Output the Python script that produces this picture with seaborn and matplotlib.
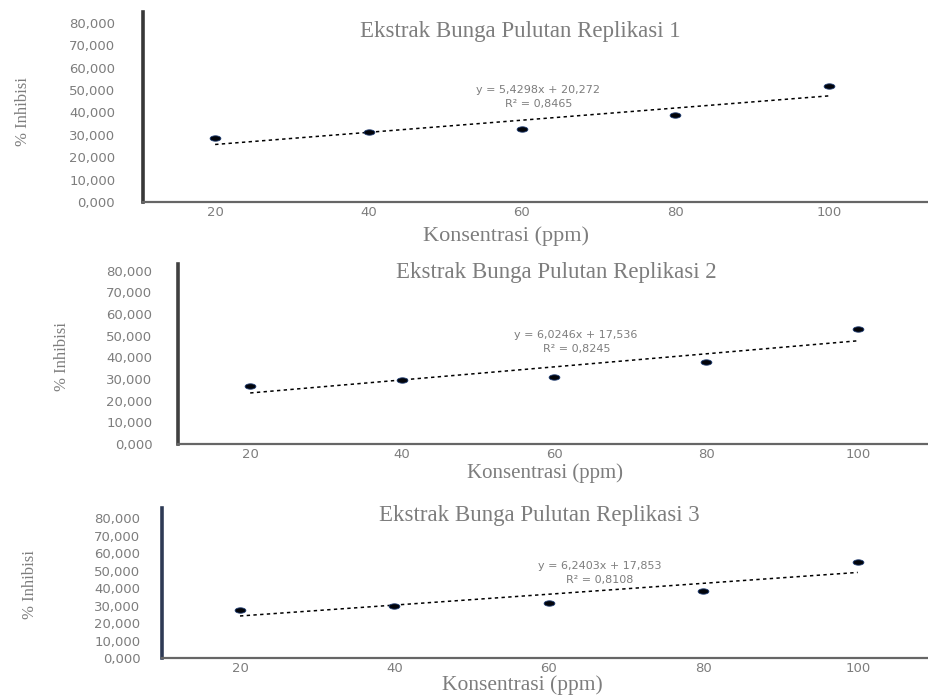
import numpy as np
import pandas as pd
import matplotlib
matplotlib.use("Agg")
import matplotlib.pyplot as plt
import seaborn as sns
from matplotlib.path import Path
from matplotlib.markers import MarkerStyle

# ---------------- data ----------------
konsentrasi = [20, 40, 60, 80, 100]
inhibisi_r1 = [28.5, 31.4, 32.5, 38.9, 51.8]
inhibisi_r2 = [27.0, 29.6, 31.0, 37.9, 53.1]
inhibisi_r3 = [27.5, 30.0, 31.5, 38.4, 54.9]
slopes = [5.4298, 6.0246, 6.2403]
intercepts = [20.272, 17.536, 17.853]
equations = ["y = 5,4298x + 20,272", "y = 6,0246x + 17,536", "y = 6,2403x + 17,853"]
r2_texts = ["R² = 0,8465", "R² = 0,8245", "R² = 0,8108"]
titles = ["Ekstrak Bunga Pulutan Replikasi 1",
          "Ekstrak Bunga Pulutan Replikasi 2",
          "Ekstrak Bunga Pulutan Replikasi 3"]
y_ticks = [0, 10, 20, 30, 40, 50, 60, 70, 80]
y_tick_labels = ["0,000", "10,000", "20,000", "30,000", "40,000",
                 "50,000", "60,000", "70,000", "80,000"]
x_label = "Konsentrasi (ppm)"
y_label = "% Inhibisi"

series = [inhibisi_r1, inhibisi_r2, inhibisi_r3]

# ---------------- style ----------------
sns.set_theme(style="white")
plt.rcParams["font.family"] = ["DejaVu Sans"]

W, H = 929, 697
fig = plt.figure(figsize=(W / 100, H / 100), dpi=100)
fig.patch.set_facecolor("white")

def fx(x):
    return x / W

def fy(y):
    return 1 - y / H

# layout per panel (pixels): axes box, xlim, ylim, y tick pad, text anchors
layouts = [
    dict(box=(143, 12, 927, 202), xlim=(10.6, 112.8), ylim=(0, 84.9), ypad=20,
         title=(520, 31), xlab=(506, 236), xsize=16, ylab=(23, 112),
         eq=(538, 90), r2=(539, 104), lcol="#383838"),
    dict(box=(178, 264, 928, 444), xlim=(10.5, 109.2), ylim=(0, 83.1), ypad=18.5,
         title=(556, 273), xlab=(545, 473), xsize=15, ylab=(62, 357),
         eq=(576, 335), r2=(577, 349), lcol="#404040"),
    dict(box=(162, 508, 928, 658), xlim=(9.9, 109.1), ylim=(0, 86.0), ypad=15.5,
         title=(539, 516), xlab=(522, 685), xsize=15.5, ylab=(30, 585),
         eq=(600, 566), r2=(600, 580), lcol="#2e3a55"),
]

theta = np.linspace(0, 2 * np.pi, 64)
ellipse = Path(np.column_stack([np.cos(theta), 0.5 * np.sin(theta)]), closed=True)
ell_marker = MarkerStyle(ellipse)

text_col = "#7d7d7d"
serif = ["Liberation Serif", "DejaVu Serif"]

for i, lay in enumerate(layouts):
    l, t, r, b = lay["box"]
    ax = fig.add_axes([fx(l), fy(b), (r - l) / W, (b - t) / H])
    ax.set_facecolor("white")

    df = pd.DataFrame({"Konsentrasi": konsentrasi, "Inhibisi": series[i]})
    idx = np.arange(1, len(konsentrasi) + 1)
    trend = pd.DataFrame({"Konsentrasi": konsentrasi,
                          "Trend": slopes[i] * idx + intercepts[i]})

    sns.lineplot(data=trend, x="Konsentrasi", y="Trend", ax=ax, color="black",
                 linewidth=1.1, linestyle=(0, (2.2, 2.2)), zorder=2)
    sns.scatterplot(data=df, x="Konsentrasi", y="Inhibisi", ax=ax,
                    marker=ell_marker, s=60, color="#02040a",
                    edgecolor="#1d3a70", linewidth=0.6, zorder=3)

    ax.set_xlim(*lay["xlim"])
    ax.set_ylim(*lay["ylim"])
    ax.set_xticks(konsentrasi)
    ax.set_xticklabels([str(k) for k in konsentrasi])
    ax.set_yticks(y_ticks)
    ax.set_yticklabels(y_tick_labels)
    ax.tick_params(axis="y", length=0, pad=lay["ypad"], labelsize=9.5, labelcolor=text_col)
    ax.tick_params(axis="x", length=0, pad=3, labelsize=9.5, labelcolor=text_col)
    ax.set_xlabel("")
    ax.set_ylabel("")
    ax.grid(False)

    for s in ["top", "right"]:
        ax.spines[s].set_visible(False)
    ax.spines["left"].set_color(lay["lcol"])
    ax.spines["left"].set_linewidth(2.6)
    ax.spines["bottom"].set_color("#666666")
    ax.spines["bottom"].set_linewidth(1.6)

    fig.text(fx(lay["title"][0]), fy(lay["title"][1]), titles[i], ha="center", va="center",
             fontsize=16.5, color=text_col, family=serif)
    fig.text(fx(lay["xlab"][0]), fy(lay["xlab"][1]), x_label, ha="center", va="center",
             fontsize=lay["xsize"], color=text_col, family=serif)
    fig.text(fx(lay["ylab"][0]), fy(lay["ylab"][1]), y_label, ha="center", va="center",
             rotation=90, fontsize=12, color=text_col, family=serif)
    fig.text(fx(lay["eq"][0]), fy(lay["eq"][1]), equations[i], ha="center", va="center",
             fontsize=8, color=text_col)
    fig.text(fx(lay["r2"][0]), fy(lay["r2"][1]), r2_texts[i], ha="center", va="center",
             fontsize=8, color=text_col)

fig.savefig("out.png", dpi=100, facecolor="white")
